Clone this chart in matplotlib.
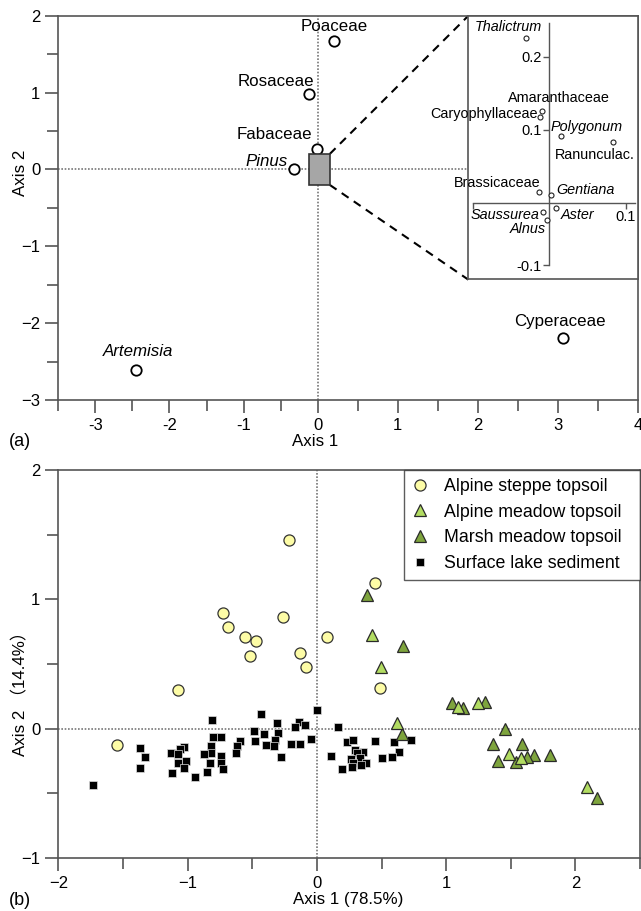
import numpy as np
import matplotlib
matplotlib.use("Agg")
import matplotlib.pyplot as plt
from matplotlib.patches import Rectangle

plt.rcParams['font.family'] = ['Liberation Sans', 'Noto Sans CJK SC', 'DejaVu Sans']

# ----------------------------------------------------------------
#  Data, panel (a): taxa scores
# ----------------------------------------------------------------
taxa_main = ["Poaceae", "Rosaceae", "Fabaceae", "Pinus", "Cyperaceae", "Artemisia"]
taxa_main_x = [0.20, -0.11, -0.01, -0.32, 3.06, -2.45]
taxa_main_y = [1.67, 0.98, 0.26, 0.00, -2.19, -2.61]
taxa_main_italic = [False, False, False, True, False, True]

# taxa inside the zoomed box (inset)
taxa_inset = ["Thalictrum", "Amaranthaceae", "Caryophyllaceae", "Polygonum", "Ranunculac.",
              "Brassicaceae", "Gentiana", "Aster", "Saussurea", "Alnus"]
taxa_inset_x = [-0.031, -0.0095, -0.0125, 0.015, 0.083, -0.013, 0.002, 0.008, -0.008, -0.0035]
taxa_inset_y = [0.225, 0.126, 0.118, 0.091, 0.083, 0.015, 0.011, -0.008, -0.015, -0.027]
taxa_inset_italic = [True, False, False, True, False, False, True, True, True, True]

# ----------------------------------------------------------------
#  Data, panel (b): sample scores
# ----------------------------------------------------------------
steppe_x = [-0.214, 0.45, -0.729, -0.263, -0.685, 0.08, -0.554, -0.474, -0.134, -0.515, -0.083, 0.489, -1.073, -1.544]
steppe_y = [1.459, 1.128, 0.891, 0.865, 0.787, 0.708, 0.706, 0.68, 0.587, 0.561, 0.478, 0.311, 0.298, -0.128]

meadow_x = [0.429, 0.497, 1.093, 1.243, 0.618, 1.487, 1.583, 2.09]
meadow_y = [0.723, 0.473, 0.169, 0.195, 0.045, -0.197, -0.23, -0.45]

marsh_x = [0.391, 0.669, 1.047, 1.132, 1.30, 0.656, 1.459, 1.359, 1.588, 1.68, 1.80, 1.629, 1.398, 1.544, 2.17]
marsh_y = [1.033, 0.638, 0.20, 0.156, 0.203, -0.045, 0.0, -0.122, -0.115, -0.205, -0.205, -0.218, -0.249, -0.257, -0.54]

lake_x = [0.0, -0.811, -0.432, -0.309, -0.142, -0.173, -0.09, -0.49, -0.412, -0.301,
          -0.801, -0.741, -0.482, -0.322, -0.598, -0.044, -0.397, -0.332, -0.198, -0.134,
          -0.621, -0.819, -1.367, -1.025, -1.056, -1.127, -1.073, -0.816, -0.87, -0.623,
          -1.328, -0.741, -0.281, -1.012, -1.073, -0.829, -0.744, -1.367, -1.027, -0.729,
          -1.123, -0.849, -0.94, -1.73,
          0.167, 0.113, 0.193, 0.236, 0.283, 0.296, 0.355, 0.309, 0.265, 0.334,
          0.283, 0.378, 0.342, 0.27, 0.45, 0.597, 0.728, 0.636, 0.579, 0.502]
lake_y = [0.145, 0.066, 0.11, 0.045, 0.053, 0.009, 0.027, -0.017, -0.043, -0.037,
          -0.068, -0.068, -0.094, -0.084, -0.094, -0.081, -0.125, -0.135, -0.122, -0.122,
          -0.135, -0.135, -0.148, -0.14, -0.16, -0.186, -0.197, -0.191, -0.199, -0.187,
          -0.222, -0.21, -0.218, -0.251, -0.264, -0.269, -0.264, -0.307, -0.305, -0.31,
          -0.346, -0.336, -0.37, -0.437,
          0.009, -0.215, -0.31, -0.1, -0.087, -0.163, -0.179, -0.192, -0.238, -0.23,
          -0.269, -0.269, -0.282, -0.3, -0.094, -0.104, -0.089, -0.184, -0.218, -0.23]

group_labels = ["Alpine steppe topsoil", "Alpine meadow topsoil",
                "Marsh meadow topsoil", "Surface lake sediment"]

# label placement (points offset from marker, alignment)
main_offsets = [(0.5, 10.6, 'center'), (3.1, 8.9, 'right'), (-3.4, 10.8, 'right'),
                (-4.8, 6.0, 'right'), (-2.2, 12.0, 'center'), (1.7, 13.2, 'center')]
inset_offsets = [(-12.4, 8.0, 'center'), (12.1, 9.1, 'center'), (-1.8, 1.8, 'right'),
                 (-7.2, 6.5, 'left'), (-41.5, -9.1, 'left'), (0.5, 6.1, 'right'),
                 (3.6, 3.6, 'left'), (3.4, -5.6, 'left'), (-2.4, -2.3, 'right'),
                 (-0.5, -6.6, 'right')]

AX_COLOR = '#555555'
ZERO_LS = (0, (1, 1))


def style_axes(ax, fs=12):
    for s in ax.spines.values():
        s.set_color(AX_COLOR)
        s.set_linewidth(1.2)
    ax.tick_params(which='both', direction='out', color=AX_COLOR, width=1.2, labelsize=fs)
    ax.tick_params(which='major', length=9.5, pad=3.5)
    ax.tick_params(which='minor', length=8)


def piecewise(neg, pos):
    # axis drawn with a different unit length on each side of zero
    def fwd(v):
        v = np.asarray(v, float)
        return np.where(v < 0, v * neg, v * pos)

    def inv(v):
        v = np.asarray(v, float)
        return np.where(v < 0, v / neg, v / pos)
    return fwd, inv


fig = plt.figure(figsize=(6.41, 9.11), dpi=100)

# ----------------------------------------------------------------
#  Panel (a)
# ----------------------------------------------------------------
ax_a = fig.add_axes([0.0910, 0.5609, 0.9048, 0.4218])
ax_a.set_xscale('function', functions=piecewise(74.3, 80.4))
ax_a.set_xlim(-3.5, 4)
ax_a.set_ylim(-3, 2)
ax_a.set_xticks(np.arange(-3, 5, 1))
ax_a.set_xticks(np.arange(-3.5, 4.5, 1), minor=True)
ax_a.set_yticks(np.arange(-3, 3, 1))
ax_a.set_yticks(np.arange(-2.5, 2, 1), minor=True)
ax_a.xaxis.set_major_formatter(plt.FuncFormatter(lambda v, p: f"{v:g}"))
ax_a.xaxis.set_minor_formatter(plt.NullFormatter())
style_axes(ax_a)
ax_a.axvline(0, color='#777777', lw=1.2, ls=ZERO_LS, zorder=1)
ax_a.axhline(0, color='#777777', lw=1.2, ls=ZERO_LS, zorder=1)

ax_a.plot(taxa_main_x, taxa_main_y, 'o', ms=7.5, mfc='white', mec='black', mew=1.3, zorder=3)
for name, x, y, it, (dx, dy, ha) in zip(taxa_main, taxa_main_x, taxa_main_y,
                                        taxa_main_italic, main_offsets):
    ax_a.annotate(name, (x, y), xytext=(dx, dy), textcoords='offset points',
                  ha=ha, va='center', fontsize=12.2, style='italic' if it else 'normal')

# zoom rectangle and connectors
ax_a.add_patch(Rectangle((-0.12, -0.2), 0.27, 0.4, facecolor='#a6a6a6',
                         edgecolor='#333333', lw=1.2, zorder=4))
ax_a.plot([0.15, 1.88], [0.2, 2.0], color='black', lw=1.5, ls=(0, (4, 3)), clip_on=False, zorder=2)
ax_a.plot([0.15, 1.88], [-0.2, -1.434], color='black', lw=1.5, ls=(0, (4, 3)), clip_on=False, zorder=2)

ax_a.set_xlabel('Axis 1', fontsize=12.2, va='center')
ax_a.xaxis.set_label_coords(0.4434, -0.108)
ax_a.set_ylabel('Axis 2', fontsize=12.2, va='center')
ax_a.yaxis.set_label_coords(-0.066, 0.591)

# ----------------------------------------------------------------
#  Inset: zoom on the crowded centre
# ----------------------------------------------------------------
ax_box = fig.add_axes([0.7301, 0.6937, 0.2657, 0.2890])
ax_box.set_xticks([])
ax_box.set_yticks([])
for s in ax_box.spines.values():
    s.set_color(AX_COLOR)
    s.set_linewidth(1.2)

ax_in = fig.add_axes([0.7379, 0.7091, 0.2527, 0.2656])
ax_in.patch.set_visible(False)
ax_in.set_yscale('function', functions=piecewise(62.3, 73.0))
ax_in.set_xlim(-0.1, 0.112)
ax_in.set_ylim(-0.1, 0.246)
ax_in.spines['left'].set_position(('data', 0))
ax_in.spines['bottom'].set_position(('data', 0))
ax_in.spines['top'].set_visible(False)
ax_in.spines['right'].set_visible(False)
for s in ('left', 'bottom'):
    ax_in.spines[s].set_color(AX_COLOR)
    ax_in.spines[s].set_linewidth(1.0)
ax_in.set_xticks([-0.1, 0.1])
ax_in.set_xticklabels(['', '0.1'])
ax_in.set_yticks([-0.1, 0.1, 0.2])
ax_in.set_yticklabels(['-0.1', '0.1', '0.2'])
ax_in.tick_params(direction='out', length=4, width=1.0, color=AX_COLOR, labelsize=10.5, pad=1.5)

ax_in.plot(taxa_inset_x, taxa_inset_y, 'o', ms=3.6, mfc='white', mec='#222222', mew=0.8,
           clip_on=False, zorder=3)
for name, x, y, it, (dx, dy, ha) in zip(taxa_inset, taxa_inset_x, taxa_inset_y,
                                        taxa_inset_italic, inset_offsets):
    ax_in.annotate(name, (x, y), xytext=(dx, dy), textcoords='offset points',
                   ha=ha, va='center', fontsize=10.4, style='italic' if it else 'normal',
                   annotation_clip=False)

# ----------------------------------------------------------------
#  Panel (b)
# ----------------------------------------------------------------
ax_b = fig.add_axes([0.0910, 0.0582, 0.9075, 0.4259])
ax_b.set_xlim(-2, 2.5)
ax_b.set_ylim(-1, 2)
ax_b.set_xticks(np.arange(-2, 3, 1))
ax_b.set_xticks(np.arange(-1.5, 3, 1), minor=True)
ax_b.set_yticks(np.arange(-1, 3, 1))
ax_b.set_yticks(np.arange(-0.5, 2, 1), minor=True)
style_axes(ax_b)
ax_b.axvline(0, color='#777777', lw=1.2, ls=ZERO_LS, zorder=1)
ax_b.axhline(0, color='#777777', lw=1.2, ls=ZERO_LS, zorder=1)

ax_b.plot(lake_x, lake_y, 's', ms=5.4, mfc='black', mec='#dddddd', mew=0.5, zorder=3,
          label=group_labels[3])
ax_b.plot(marsh_x, marsh_y, '^', ms=9, mfc='#7ea43d', mec='#2a2a2a', mew=0.9, zorder=4,
          label=group_labels[2])
ax_b.plot(meadow_x, meadow_y, '^', ms=9, mfc='#b2dc62', mec='#2a2a2a', mew=0.9, zorder=5,
          label=group_labels[1])
ax_b.plot(steppe_x, steppe_y, 'o', ms=8, mfc='#fdfca6', mec='#333333', mew=0.9, zorder=6,
          label=group_labels[0])

handles, labels = ax_b.get_legend_handles_labels()
leg = ax_b.legend(handles[::-1], labels[::-1], loc='upper right',
                  bbox_to_anchor=(0.5943, 0.0, 0.4057, 1.0), mode='expand',
                  borderaxespad=0, fontsize=12.8, frameon=True, fancybox=False,
                  handlelength=0.95, handletextpad=0.85, labelspacing=0.49, borderpad=0.45)
leg.get_frame().set_edgecolor('#333333')
leg.get_frame().set_linewidth(1.0)

ax_b.set_xlabel('Axis 1 (78.5%)', fontsize=12.2, va='center')
ax_b.xaxis.set_label_coords(0.498, -0.108)
ax_b.set_ylabel('Axis 2 （14.4%）', fontsize=12.2, va='center')
ax_b.yaxis.set_label_coords(-0.066, 0.433)

fig.text(0.0312, 0.5159, '(a)', fontsize=13, ha='center', va='center')
fig.text(0.0312, 0.0110, '(b)', fontsize=13, ha='center', va='center')

fig.savefig('out.png', dpi=100)
